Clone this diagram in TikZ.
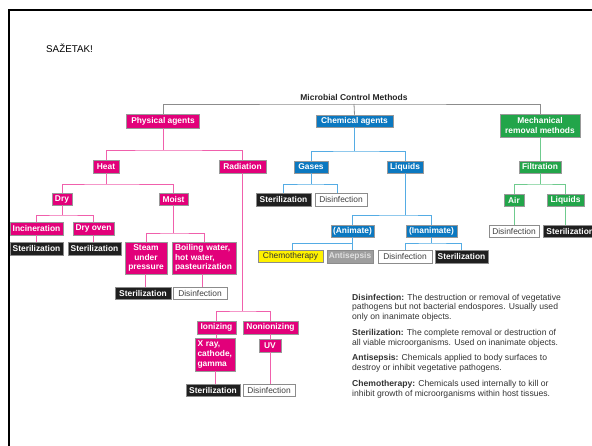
\documentclass[tikz,border=0pt]{standalone}
\usepackage{fontspec}
\setmainfont{Liberation Sans}
\definecolor{pinkbox}{HTML}{E2007A}
\definecolor{pinkline}{HTML}{F060AC}
\definecolor{bluebox}{HTML}{0B78C0}
\definecolor{blueline}{HTML}{55ACE4}
\definecolor{greenbox}{HTML}{22A54A}
\definecolor{greenline}{HTML}{6FCB8E}
\definecolor{grayline}{HTML}{8C8C8C}
\definecolor{yelbox}{HTML}{FFF200}
\begin{document}
\begin{tikzpicture}[x=1pt,y=-1pt,
  base/.style={inner sep=0pt, line width=0.5pt, align=center,
    font=\fontsize{8.4}{9.6}\selectfont\bfseries, text=white},
  pk/.style={base, fill=pinkbox, draw=black!40},
  bl/.style={base, fill=bluebox, draw=black!40},
  gr/.style={base, fill=greenbox, draw=black!40},
  blk/.style={base, fill=black!88, draw=black!45},
  wht/.style={base, fill=white, draw=black!45, text=black!75,
    font=\fontsize{8.4}{9.6}\selectfont},
  yel/.style={base, fill=yelbox, draw=black!45, text=black!80,
    font=\fontsize{8.4}{9.6}\selectfont},
  gry/.style={base, fill=black!38, draw=black!45, text=black!12},
  sz/.style 2 args={minimum width=#1pt, minimum height=#2pt},
  pl/.style={draw=pinkline, line width=0.8pt},
  bll/.style={draw=blueline, line width=0.8pt},
  grl/.style={draw=greenline, line width=0.8pt},
  gyl/.style={draw=grayline, line width=0.8pt},
  para/.style={anchor=base west, align=left, inner sep=0pt,
    font=\fontsize{8.6}{9.7}\selectfont, text=black!80}
]
\useasboundingbox (0,0) rectangle (592,446);
\draw[line width=2pt] (9,460) -- (9,10) -- (610,10);
\node[anchor=west, inner sep=0pt, font=\fontsize{9.8}{11}\selectfont] (sum) at (46,48.5) {SAŽETAK!};
\node[inner sep=0pt, font=\fontsize{8.5}{10}\selectfont\bfseries, text=black!85] (title) at (354,97) {Microbial Control Methods};

% level 1
\node[pk, sz={73}{14}] (phys) at (163,121) {Physical agents};
\node[bl, sz={77}{12}] (chem) at (354.5,121) {Chemical agents};
\node[gr, sz={80}{23}] (mech) at (540,125.5) {Mechanical\\removal methods};
\coordinate (tb) at (354,104);
\draw[gyl] (phys.north) |- (tb) -| (mech.north);
\draw[gyl] (chem.north) -- (tb);

% physical
\node[pk, sz={26}{13}] (heat) at (106,166.5) {Heat};
\node[pk, sz={47}{13}] (rad) at (242.5,166.5) {Radiation};
\coordinate (j1) at (163,150);
\draw[pl] (phys.south) -- (j1);
\draw[pl] (heat.north) |- (j1) -| (rad.north);

\node[pk, sz={20}{12}] (dry) at (62,199) {Dry};
\node[pk, sz={29}{12}] (moist) at (173.5,199) {Moist};
\coordinate (j2) at (106,184);
\draw[pl] (heat.south) -- (j2);
\draw[pl] (dry.north) |- (j2) -| (moist.north);

\node[pk, sz={53}{13}] (incin) at (36.5,228.5) {Incineration};
\node[pk, sz={41}{13}] (oven) at (93.5,228.5) {Dry oven};
\coordinate (j3) at (62,215);
\draw[pl] (dry.south) -- (j3);
\draw[pl] (incin.north) |- (j3) -| (oven.north);

\node[blk, sz={53}{13}] (st1) at (36.5,248.5) {Sterilization};
\node[blk, sz={53}{13}] (st2) at (94.5,248.5) {Sterilization};
\draw[pl] (incin.south) -- (incin.south |- st1.north);
\draw[pl] (oven.south) -- (oven.south |- st2.north);

\node[pk, sz={42}{32}] (steam) at (146,258) {Steam\\under\\pressure};
\node[pk, sz={64}{32}, align=left, text width=58pt] (boil) at (204,258) {Boiling water,\\hot water,\\pasteurization};
\coordinate (j4) at (173.5,233);
\draw[pl] (moist.south) -- (j4);
\draw[pl] (steam.north) |- (j4) -| (boil.north);

\node[blk, sz={56}{12}] (st3) at (143,293) {Sterilization};
\node[wht, sz={54}{12}] (dis3) at (200,293) {Disinfection};
\draw[pl] ([xshift=-1pt]steam.south) -- ([xshift=-1pt]steam.south |- st3.north);
\draw[pl] ([xshift=-2pt]boil.south) -- ([xshift=-2pt]boil.south |- dis3.north);

\node[pk, sz={39}{13}] (ion) at (216.5,327.5) {Ionizing};
\node[pk, sz={55}{13}] (nonion) at (270.5,327.5) {Nonionizing};
\coordinate (j5) at (242.5,311);
\draw[pl] (rad.south) -- (j5);
\draw[pl] (ion.north) |- (j5) -| (nonion.north);

\node[pk, sz={40}{33}, align=left, text width=35pt] (xray) at (215,354.5) {X ray,\\cathode,\\gamma};
\node[pk, sz={22}{13}] (uv) at (270,345.5) {UV};
\draw[pl] (ion.south) -- (ion.south |- xray.north);
\draw[pl] (nonion.south) -- (nonion.south |- uv.north);

\node[blk, sz={54}{12}] (st4) at (213,390) {Sterilization};
\node[wht, sz={52}{12}] (dis4) at (269,390) {Disinfection};
\draw[pl] (xray.south) -- (xray.south |- st4.north);
\draw[pl] (uv.south) -- (uv.south |- dis4.north);

% chemical
\node[bl, sz={34}{12}] (gas) at (311,167) {Gases};
\node[bl, sz={36}{12}] (liq) at (405,167) {Liquids};
\coordinate (k1) at (354.5,151);
\draw[bll] (chem.south) -- (k1);
\draw[bll] (gas.north) |- (k1) -| (liq.north);

\node[blk, sz={55}{13}] (st5) at (283.5,199.5) {Sterilization};
\node[wht, sz={52}{13}] (dis5) at (341,199.5) {Disinfection};
\coordinate (k2) at (311,184);
\draw[bll] (gas.south) -- (k2);
\draw[bll] (st5.north) |- (k2) -| ([xshift=-4pt]dis5.north);

\node[bl, sz={43}{12}] (anim) at (352.5,231) {(Animate)};
\node[bl, sz={51}{12}] (inanim) at (431.5,231) {(Inanimate)};
\coordinate (k3) at (405,215);
\draw[bll] (liq.south) -- (k3);
\draw[bll] (anim.north) |- (k3) -| (inanim.north);

\node[yel, sz={65}{12}] (chemo) at (290.5,256.5) {Chemotherapy};
\node[gry, sz={46}{13}] (antis) at (350,256.5) {Antisepsis};
\node[wht, sz={54}{13}] (dis6) at (405,256.5) {Disinfection};
\node[blk, sz={53}{13}] (st6) at (461.5,256.5) {Sterilization};
\coordinate (k4) at (352.5,243);
\coordinate (k5) at (431.5,243);
\draw[bll] (anim.south) -- (k4);
\draw[bll] ([xshift=1.5pt]chemo.north) |- (k4) -| ([xshift=2.5pt]antis.north);
\draw[bll] (inanim.south) -- (k5);
\draw[bll] (dis6.north) |- (k5) -| (st6.north);

% mechanical
\node[gr, sz={42}{12}] (filt) at (540,167) {Filtration};
\draw[grl] (mech.south) -- (filt.north);
\node[gr, sz={20}{12}] (air) at (514,200) {Air};
\node[gr, sz={37}{12}] (liq2) at (565.5,200) {Liquids};
\coordinate (m1) at (540,184);
\draw[grl] (filt.south) -- (m1);
\draw[grl] (air.north) |- (m1) -| (liq2.north);
\node[wht, sz={50}{12}] (dis7) at (514,231) {Disinfection};
\node[blk, sz={54}{12}, anchor=west] (st7) at (543,231) {Sterilization};
\draw[grl] (air.south) -- (air.south |- dis7.north);
\draw[grl] (liq2.south) -- (liq2.south |- st7.north);

% definitions (anchored at the baseline of the last line)
\node[para] (p1) at (352,319.5) {\textbf{Disinfection:} The destruction or removal of vegetative\\pathogens but not bacterial endospores. Usually used\\only on inanimate objects.};
\node[para] (p2) at (352,345.4) {\textbf{Sterilization:} The complete removal or destruction of\\all viable microorganisms. Used on inanimate objects.};
\node[para] (p3) at (352,370.5) {\textbf{Antisepsis:} Chemicals applied to body surfaces to\\destroy or inhibit vegetative pathogens.};
\node[para] (p4) at (352,396) {\textbf{Chemotherapy:} Chemicals used internally to kill or\\inhibit growth of microorganisms within host tissues.};
\end{tikzpicture}
\end{document}
